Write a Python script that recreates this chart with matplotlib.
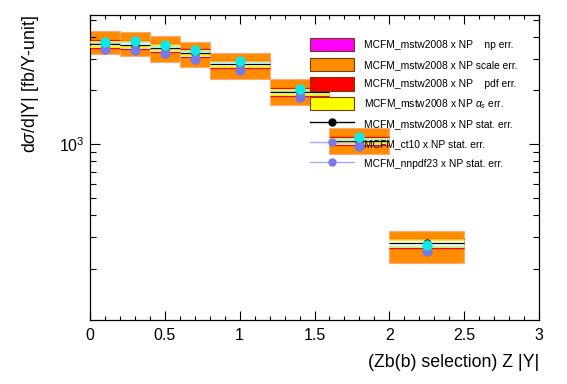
import numpy as np
import matplotlib.pyplot as plt
from matplotlib.patches import Patch
from matplotlib.lines import Line2D
from matplotlib.ticker import FixedLocator, FuncFormatter, NullFormatter, MultipleLocator

plt.rcParams['font.family'] = ['Liberation Sans', 'DejaVu Sans']
plt.rcParams['mathtext.fontset'] = 'custom'
plt.rcParams['mathtext.rm'] = 'Liberation Sans'
plt.rcParams['mathtext.it'] = 'Liberation Sans:italic'

# bins in |Y|
bin_lo = np.array([0.0, 0.2, 0.4, 0.6, 0.8, 1.2, 1.6, 2.0])
bin_hi = np.array([0.2, 0.4, 0.6, 0.8, 1.2, 1.6, 2.0, 2.5])
bin_mid = (bin_lo + bin_hi) / 2

# MCFM_mstw2008 x NP central values and bands [fb/Y-unit]
mstw = np.array([3636, 3613, 3470, 3252, 2797, 1954, 1040, 277])
scale_up = np.array([4315, 4264, 4030, 3733, 3237, 2306, 1225, 327])
scale_dn = np.array([3185, 3125, 2890, 2692, 2333, 1656, 879, 214])
pdf_rel = np.array([0.05, 0.05, 0.05, 0.05, 0.05, 0.05, 0.05, 0.06])
as_rel = np.array([0.03, 0.03, 0.03, 0.03, 0.03, 0.03, 0.03, 0.04])
mstw_stat = np.array([40, 40, 40, 40, 35, 30, 18, 8])

# other PDF sets
cyan_vals = np.array([3745, 3776, 3620, 3366, 2918, 2026, 1090, 272])
ct10 = np.array([3396, 3381, 3223, 3021, 2600, 1842, 975, 251])

orange = '#ff8c00'
purple = '#7878e6'
lavender = '#a8a8ec'
cyan = '#10e8e8'

fig = plt.figure(figsize=(5.67, 3.84), dpi=100)
ax = fig.add_axes([90/567, 1-320/384, 449/567, 305/384])

width = bin_hi - bin_lo
ax.bar(bin_lo, scale_up - scale_dn, bottom=scale_dn, width=width, align='edge',
       color=orange, edgecolor='#ffa878', linewidth=0.8, zorder=1)
ax.bar(bin_lo, 2 * pdf_rel * mstw, bottom=mstw * (1 - pdf_rel), width=width, align='edge',
       color='white', edgecolor='none', zorder=2)
ax.hlines(mstw * (1 + pdf_rel), bin_lo, bin_hi, color='red', lw=0.9, zorder=3)
ax.hlines(mstw * (1 - pdf_rel), bin_lo, bin_hi, color='red', lw=0.9, zorder=3)
ax.hlines(mstw * (1 + as_rel), bin_lo, bin_hi, color='#f0f000', lw=1.2, zorder=3)
ax.hlines(mstw * (1 - as_rel), bin_lo, bin_hi, color='#f0f000', lw=1.2, zorder=3)
ax.hlines(cyan_vals * 0.985, bin_lo, bin_hi, color='#a0f0f0', lw=1.0, zorder=3)
ax.hlines(mstw, bin_lo, bin_hi, color='black', lw=0.9, zorder=4)

ax.errorbar(bin_mid, mstw, yerr=mstw_stat, fmt='o', color='black', ms=5, lw=1, zorder=5)
ax.errorbar(bin_mid, ct10, fmt='o', color=purple, ms=6.5, zorder=6)
ax.errorbar(bin_mid, cyan_vals, fmt='o', color=cyan, ms=6.5, zorder=7)

ax.set_yscale('log')
ax.set_xlim(0, 3)
ax.set_ylim(103, 5300)

ax.xaxis.set_major_locator(MultipleLocator(0.5))
ax.xaxis.set_minor_locator(MultipleLocator(0.1))
ax.xaxis.set_major_formatter(FuncFormatter(lambda v, p: f'{v:g}'))
ax.yaxis.set_major_locator(FixedLocator([1000]))
ax.yaxis.set_major_formatter(FuncFormatter(lambda v, p: r'$10^{3}$'))
ax.yaxis.set_minor_locator(FixedLocator([200, 300, 400, 500, 600, 700, 800, 900,
                                         2000, 3000, 4000, 5000]))
ax.yaxis.set_minor_formatter(NullFormatter())

ax.tick_params(which='both', direction='in', top=True, right=True, labelsize=11.5, width=0.8)
ax.tick_params(axis='x', which='major', length=6.5, pad=6)
ax.tick_params(axis='x', which='minor', length=3.2)
ax.tick_params(axis='y', which='major', length=7, pad=4)
ax.tick_params(axis='y', which='minor', length=4.5)
for s in ax.spines.values():
    s.set_linewidth(0.9)

ax.set_xlabel('(Zb(b) selection) Z |Y|', fontsize=12.8, loc='right', labelpad=8)
ax.set_ylabel(r'd$\sigma$/d|Y| [fb/Y-unit]', fontsize=12.8, loc='top', labelpad=13)

handles = [
    Patch(facecolor='#ff00ff', edgecolor='#704000', lw=0.8),
    Patch(facecolor=orange, edgecolor='#704000', lw=0.8),
    Patch(facecolor='red', edgecolor='#704000', lw=0.8),
    Patch(facecolor='yellow', edgecolor='#704000', lw=0.8),
    Line2D([], [], color='black', lw=1, marker='o', ms=5),
    Line2D([], [], color=lavender, lw=1, marker='o', ms=5, mfc=purple, mec=purple),
    Line2D([], [], color=lavender, lw=1, marker='o', ms=5, mfc=purple, mec=purple),
]
labels = [
    'MCFM_mstw2008 x NP    np err.',
    'MCFM_mstw2008 x NP scale err.',
    'MCFM_mstw2008 x NP    pdf err.',
    r'MCFM_mstw2008 x NP $\alpha_s$ err.',
    'MCFM_mstw2008 x NP stat. err.',
    'MCFM_ct10 x NP stat. err.',
    'MCFM_nnpdf23 x NP stat. err.',
]
leg = ax.legend(handles, labels, loc='upper left', bbox_to_anchor=(310/567, 1-38/384),
                bbox_transform=fig.transFigure, frameon=False, fontsize=7.4,
                handlelength=4.3, handleheight=1.6, labelspacing=0.63,
                handletextpad=0.95, borderpad=0, borderaxespad=0)
leg.set_zorder(10)

fig.savefig('out.png', dpi=100)
